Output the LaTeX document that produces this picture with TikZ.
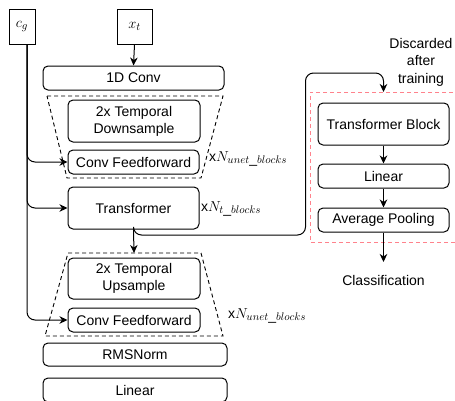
\documentclass[tikz,border=0pt]{standalone}
\usepackage{fontspec}
\setmainfont{Liberation Sans}
\DeclareMathSizes{14}{14}{10.5}{8}
\usetikzlibrary{arrows.meta}
\definecolor{pinkred}{RGB}{255,130,140}
\tikzset{
  box/.style={draw, line width=1pt, rounded corners=5pt, inner sep=0pt, align=center, font=\fontsize{14}{17}\selectfont},
  sq/.style={draw, line width=1pt, inner sep=0pt, font=\fontsize{14}{17}\selectfont},
  arr/.style={line width=1pt, -{Stealth[length=8pt,width=7.5pt,inset=2.5pt]}},
  trap/.style={line width=0.9pt, dash pattern=on 4pt off 3pt},
  lbl/.style={inner sep=0pt, anchor=base west, font=\fontsize{14}{17}\selectfont},
}
\begin{document}
\begin{tikzpicture}[x=1pt,y=-1pt]
\useasboundingbox (0,0) rectangle (455,400);
% left column
\node[sq, minimum width=26pt, minimum height=35pt] (cg) at (22,26.5) {$c_g$};
\node[sq, minimum width=35pt, minimum height=35pt] (xt) at (134.5,26.5) {$x_t$};
\node[box, minimum width=181pt, minimum height=24pt] (conv) at (133.5,78) {1D Conv};
\draw[trap] (47,96) -- (223,96) -- (201,178) -- (67,178) -- cycle;
\node[box, minimum width=132pt, minimum height=42pt] (tds) at (134,121) {2x Temporal\\Downsample};
\node[box, minimum width=131pt, minimum height=24pt] (cffd) at (133.5,162) {Conv Feedforward};
\node[lbl] (l1) at (209,161) {x$N_{unet\_blocks}$};
\node[box, minimum width=131pt, minimum height=42pt] (tr) at (133.5,208) {Transformer};
\node[lbl] (l2) at (201,211) {x$N_{t\_blocks}$};
\draw[trap] (68,253) -- (201,253) -- (223,336) -- (45,336) -- cycle;
\coordinate (uptop) at (134,253);
\node[box, minimum width=132pt, minimum height=41pt] (tus) at (134,278.5) {2x Temporal\\Upsample};
\node[box, minimum width=132pt, minimum height=24pt] (cffu) at (134,320) {Conv Feedforward};
\node[lbl] (l3) at (228,318) {x$N_{unet\_blocks}$};
\node[box, minimum width=184pt, minimum height=23pt] (rms) at (135,354.5) {RMSNorm};
\node[box, minimum width=184pt, minimum height=24pt] (lin) at (135,390) {Linear};
% right column
\draw[pinkred, line width=0.9pt, dash pattern=on 4pt off 3pt] (460,92) -- (310,92) -- (310,242) -- (460,242);
\coordinate (redtop) at (383.5,92);
\node[align=center, inner sep=0pt, font=\fontsize{14}{17.5}\selectfont] (disc) at (421,62) {Discarded\\after\\training};
\node[box, minimum width=131pt, minimum height=42pt] (tb) at (383.5,124) {Transformer Block};
\node[box, minimum width=131pt, minimum height=24pt] (lr) at (383.5,176) {Linear};
\node[box, minimum width=131pt, minimum height=24pt] (ap) at (383.5,220) {Average Pooling};
\node[anchor=north, inner xsep=0pt, inner ysep=13pt, font=\fontsize{14}{17}\selectfont] (cls) at (383.5,262) {Classification};
% connectors
\draw[arr] (xt.south) -- (conv.north);
\draw[arr, rounded corners=8pt] ([xshift=5pt]cg.south) |- (cffd.west);
\draw[arr, rounded corners=8pt] ([xshift=5pt]cg.south) |- (tr.west);
\draw[arr, rounded corners=8pt] ([xshift=5pt]cg.south) |- (cffu.west);
\draw[arr] (tr.south) -- (uptop);
\draw[arr, rounded corners=8pt] (tr.south) |- (305.5,235) |- (383.5,73) -- (redtop);
\draw[arr] (tb.south) -- (lr.north);
\draw[arr] (lr.south) -- (ap.north);
\draw[arr] (ap.south) -- (cls.north);
\end{tikzpicture}
\end{document}
